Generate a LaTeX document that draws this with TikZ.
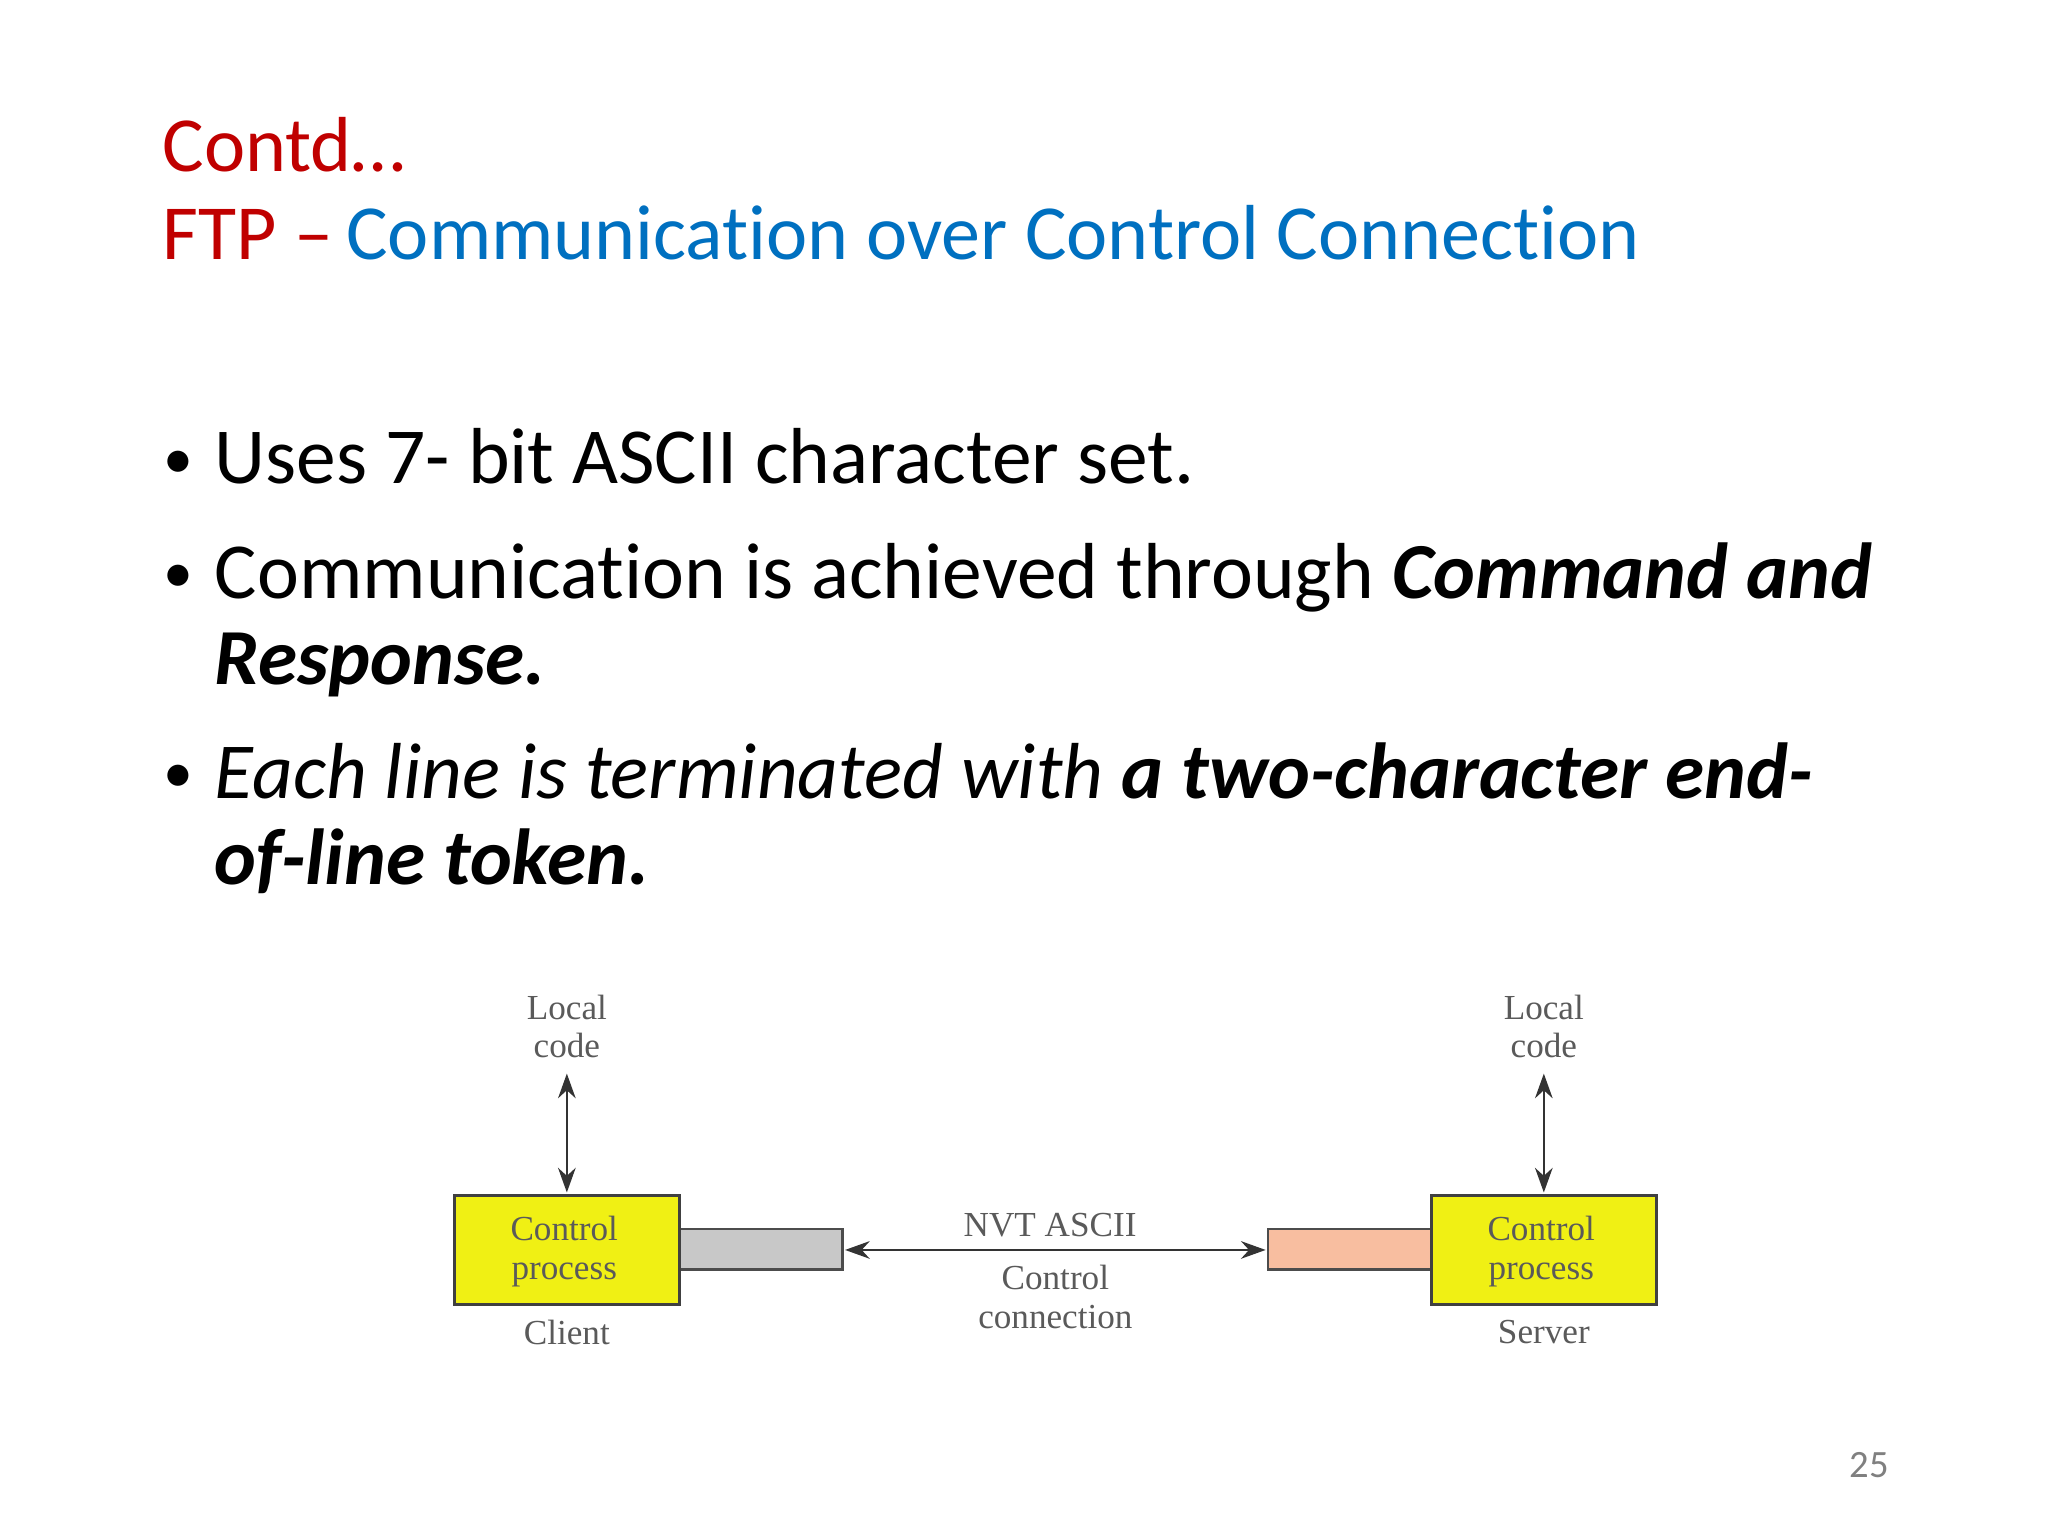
\documentclass[tikz,border=0pt]{standalone}
\usepackage{fontspec}
\setmainfont[Ligatures=NoCommon]{Carlito}
\newfontfamily\diagfont{Liberation Serif}
\usetikzlibrary{arrows.meta}
\definecolor{tred}{RGB}{192,0,0}
\definecolor{tblue}{RGB}{0,112,192}
\definecolor{yel}{RGB}{240,240,20}
\definecolor{salmon}{RGB}{248,190,160}
\definecolor{grayr}{RGB}{200,200,200}
\definecolor{dtext}{RGB}{90,90,90}
\tikzset{
 title/.style={anchor=base west,inner sep=0,font=\fontsize{22.2}{26}\selectfont},
 bul/.style={anchor=base west,inner sep=0,font=\fontsize{22.6}{26}\selectfont},
 dot/.style={anchor=base west,inner sep=0,font=\fontsize{17}{20}\selectfont},
 dl/.style={inner sep=0,font=\diagfont\fontsize{10}{12}\selectfont,text=dtext,align=center},
 proc/.style={draw=black!75,line width=0.8pt,fill=yel},
 conn/.style={draw=black!70,line width=0.6pt},
 arr/.style={line width=0.7pt,draw=black!80,{Stealth[length=7pt,width=5pt]}-{Stealth[length=7pt,width=5pt]}}
}
\begin{document}
\begin{tikzpicture}[x=0.013061cm,y=-0.013061cm]
\useasboundingbox (0,0) rectangle (1568,1176);
\fill[white] (0,0) rectangle (1568,1176);
\node[title,text=tred] (t1) at (124,131) {Contd…};
\node[title] (t2) at (124,199) {\textcolor{tred}{FTP –}\,\textcolor{tblue}{Communication over Control Connection}};
\node[dot] (b1) at (125,366) {•};
\node[bul] (l1) at (164,370) {Uses 7- bit ASCII character set.};
\node[dot] (b2) at (125,454) {•};
\node[bul] (l2) at (164,458) {Communication is achieved through \textbf{\textit{Command and}}};
\node[bul] (l2b) at (164,524) {\textbf{\textit{Response.}}};
\node[dot] (b3) at (125,607) {•};
\node[bul] (l3) at (164,611) {\textit{Each line is terminated with \textbf{a two-character end-}}};
\node[bul] (l3b) at (164,677) {\textbf{\textit{of-line token.}}};
% diagram
\draw[conn,fill=grayr] (520,941) rectangle (645,972);
\draw[conn,fill=salmon] (971,941) rectangle (1096,972);
\draw[proc] (348,915) rectangle (520,999);
\draw[proc] (1096,915) rectangle (1268,999);
\node[dl] (cp1) at (432,958) {Control\\[-1pt]process};
\node[dl] (cp2) at (1180,958) {Control\\[-1pt]process};
\node[dl] (lc1) at (434,786) {Local\\[-1pt]code};
\node[dl] (lc2) at (1182,786) {Local\\[-1pt]code};
\coordinate (c1t) at (434,913);
\coordinate (c2t) at (1182,913);
\coordinate (lc1b) at (434,822);
\coordinate (lc2b) at (1182,822);
\draw[arr] (lc1b) -- (c1t);
\draw[arr] (lc2b) -- (c2t);
\coordinate (ga) at (647,957);
\coordinate (sa) at (969,957);
\draw[arr] (ga) -- (sa);
\node[dl] (nvt) at (804,938) {NVT ASCII};
\node[dl] (cc) at (808,993) {Control\\[-1pt]connection};
\node[dl] (cl) at (434,1020) {Client};
\node[dl] (sv) at (1182,1020) {Server};
\node[inner sep=0,text=gray,font=\fontsize{11}{12}\selectfont] (pg) at (1431,1122) {25};
\end{tikzpicture}
\end{document}
